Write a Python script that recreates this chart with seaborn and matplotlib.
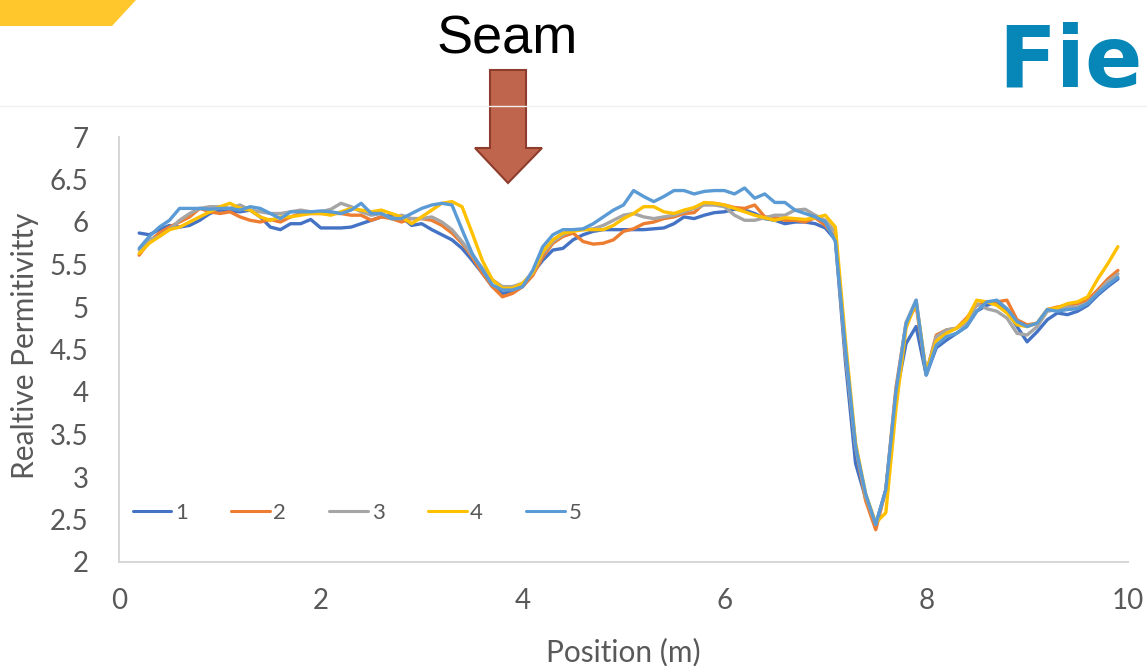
import numpy as np
import pandas as pd
import matplotlib
matplotlib.use("Agg")
import matplotlib.pyplot as plt
from matplotlib.patches import Polygon
from matplotlib.lines import Line2D
import seaborn as sns

# ---------------- data ----------------
positions = list(np.round(np.arange(0.2, 9.95, 0.1), 1))

series_1 = [5.87, 5.85, 5.91, 5.96, 5.94, 5.96, 6.02, 6.10, 6.14, 6.13,
            6.12, 6.14, 6.06, 5.94, 5.91, 5.98, 5.98, 6.03, 5.93, 5.93,
            5.93, 5.94, 5.98, 6.02, 6.06, 6.08, 6.06, 5.96, 5.98, 5.91,
            5.85, 5.79, 5.69, 5.55, 5.40, 5.24, 5.16, 5.18, 5.24, 5.40,
            5.55, 5.67, 5.69, 5.79, 5.85, 5.89, 5.91, 5.91, 5.91, 5.91,
            5.91, 5.92, 5.93, 5.98, 6.06, 6.04, 6.08, 6.11, 6.12, 6.15,
            6.14, 6.10, 6.04, 6.02, 5.98, 6.00, 6.00, 5.98, 5.93, 5.79,
            4.35, 3.16, 2.75, 2.44, 2.85, 3.95, 4.57, 4.77, 4.20, 4.52,
            4.61, 4.69, 4.77, 4.95, 5.02, 5.06, 4.96, 4.77, 4.59, 4.71,
            4.85, 4.93, 4.91, 4.95, 5.02, 5.14, 5.24, 5.33]

series_2 = [5.61, 5.77, 5.87, 5.94, 6.00, 6.06, 6.16, 6.12, 6.10, 6.12,
            6.06, 6.02, 6.00, 6.03, 6.00, 6.06, 6.10, 6.10, 6.10, 6.10,
            6.10, 6.08, 6.08, 6.02, 6.06, 6.04, 6.00, 6.04, 6.04, 6.02,
            5.96, 5.87, 5.75, 5.59, 5.40, 5.24, 5.12, 5.16, 5.24, 5.37,
            5.59, 5.75, 5.83, 5.87, 5.77, 5.74, 5.75, 5.79, 5.89, 5.92,
            5.98, 6.00, 6.04, 6.06, 6.10, 6.11, 6.22, 6.22, 6.20, 6.17,
            6.16, 6.20, 6.06, 6.05, 6.02, 6.02, 6.00, 6.05, 5.96, 5.82,
            4.45, 3.36, 2.72, 2.38, 2.85, 4.05, 4.80, 5.02, 4.22, 4.67,
            4.73, 4.75, 4.87, 5.02, 5.06, 5.06, 5.08, 4.85, 4.79, 4.81,
            4.97, 5.00, 5.02, 5.04, 5.08, 5.20, 5.33, 5.43]

series_3 = [5.67, 5.79, 5.83, 5.91, 6.02, 6.10, 6.16, 6.18, 6.18, 6.16,
            6.20, 6.14, 6.12, 6.10, 6.10, 6.12, 6.14, 6.12, 6.12, 6.15,
            6.22, 6.18, 6.12, 6.08, 6.10, 6.04, 6.08, 6.04, 6.04, 6.06,
            6.00, 5.91, 5.77, 5.61, 5.46, 5.32, 5.24, 5.24, 5.28, 5.40,
            5.63, 5.77, 5.85, 5.91, 5.91, 5.92, 5.96, 6.02, 6.08, 6.10,
            6.06, 6.04, 6.06, 6.08, 6.12, 6.16, 6.20, 6.20, 6.18, 6.08,
            6.02, 6.02, 6.05, 6.08, 6.08, 6.14, 6.15, 6.08, 6.02, 5.88,
            4.45, 3.36, 2.77, 2.44, 2.85, 4.00, 4.82, 5.08, 4.22, 4.65,
            4.73, 4.75, 4.81, 5.04, 4.98, 4.95, 4.87, 4.69, 4.67, 4.77,
            4.95, 4.97, 5.00, 5.00, 5.05, 5.17, 5.30, 5.39]

series_4 = [5.63, 5.75, 5.83, 5.91, 5.94, 6.00, 6.06, 6.12, 6.18, 6.22,
            6.16, 6.14, 6.06, 6.02, 6.06, 6.06, 6.08, 6.10, 6.10, 6.08,
            6.12, 6.16, 6.14, 6.12, 6.14, 6.10, 6.06, 5.98, 6.06, 6.14,
            6.22, 6.24, 6.18, 5.87, 5.55, 5.32, 5.22, 5.22, 5.28, 5.40,
            5.65, 5.79, 5.87, 5.89, 5.91, 5.91, 5.91, 5.96, 6.04, 6.10,
            6.18, 6.18, 6.12, 6.10, 6.14, 6.17, 6.23, 6.22, 6.20, 6.16,
            6.12, 6.08, 6.05, 6.02, 6.05, 6.04, 6.03, 6.05, 6.08, 5.94,
            4.60, 3.40, 2.80, 2.46, 2.58, 3.80, 4.75, 5.06, 4.24, 4.60,
            4.69, 4.75, 4.85, 5.08, 5.06, 5.02, 4.93, 4.79, 4.77, 4.81,
            4.97, 4.99, 5.04, 5.06, 5.12, 5.33, 5.51, 5.71]

series_5 = [5.69, 5.83, 5.94, 6.02, 6.16, 6.16, 6.16, 6.15, 6.16, 6.16,
            6.14, 6.18, 6.16, 6.10, 6.04, 6.12, 6.12, 6.12, 6.13, 6.12,
            6.10, 6.14, 6.22, 6.10, 6.10, 6.04, 6.04, 6.10, 6.16, 6.20,
            6.22, 6.20, 5.91, 5.63, 5.44, 5.26, 5.20, 5.20, 5.24, 5.43,
            5.71, 5.85, 5.91, 5.91, 5.92, 5.98, 6.06, 6.14, 6.20, 6.37,
            6.30, 6.24, 6.30, 6.37, 6.37, 6.33, 6.36, 6.37, 6.37, 6.33,
            6.40, 6.28, 6.33, 6.23, 6.23, 6.14, 6.10, 6.06, 6.00, 5.77,
            4.50, 3.36, 2.80, 2.44, 2.85, 4.00, 4.80, 5.08, 4.20, 4.55,
            4.65, 4.69, 4.77, 4.95, 5.06, 5.08, 4.98, 4.83, 4.77, 4.81,
            4.97, 4.95, 4.97, 4.98, 5.04, 5.16, 5.26, 5.35]

series_names = ["1", "2", "3", "4", "5"]
series_colors = ["#4472C4", "#ED7D31", "#A5A5A5", "#FFC000", "#5B9BD5"]
x_ticks = [0, 2, 4, 6, 8, 10]
y_ticks = [2, 2.5, 3, 3.5, 4, 4.5, 5, 5.5, 6, 6.5, 7]
y_tick_labels = ["2", "2.5", "3", "3.5", "4", "4.5", "5", "5.5", "6", "6.5", "7"]

all_series = [series_1, series_2, series_3, series_4, series_5]
df = pd.DataFrame({
    "Position": positions * 5,
    "Value": sum(all_series, []),
    "Series": sum([[n] * len(positions) for n in series_names], []),
})

# ---------------- style ----------------
sns.set_theme(style="white")
plt.rcParams["font.family"] = ["Lato", "DejaVu Sans"]

W, H = 1147, 666
fig = plt.figure(figsize=(W / 100, H / 100), dpi=100)
fig.patch.set_facecolor("white")

def fx(px):
    return px / W

def fy(py):
    return 1 - py / H

# slide decorations
fig.add_artist(Polygon([(fx(0), fy(0)), (fx(136), fy(0)), (fx(112), fy(26)), (fx(0), fy(26))],
                       closed=True, transform=fig.transFigure, facecolor="#FFC72C",
                       edgecolor="none"))
fig.add_artist(Line2D([0, 1], [fy(106), fy(106)], transform=fig.transFigure,
                      color="#F0F0F0", lw=1))
fig.text(fx(507), fy(54), "Seam", ha="center", va="baseline", fontsize=39,
         family=["Liberation Sans", "DejaVu Sans"], color="black")
arrow_pts = [(490, 70), (526, 70), (526, 148), (542, 148), (508, 183), (475, 148), (490, 148)]
fig.add_artist(Polygon([(fx(a), fy(b)) for a, b in arrow_pts], closed=True,
                       transform=fig.transFigure, facecolor="#C0654D",
                       edgecolor="#8E3C2C", lw=1.5))
fig.text(fx(998), fy(87), "Field", ha="left", va="baseline", fontsize=61,
         fontweight="bold", family=["DejaVu Sans"], color="#0787B8")

# chart
ax = fig.add_axes([fx(119), fy(562), (1128 - 119) / W, (562 - 137) / H])
ax.set_facecolor("white")
sns.lineplot(data=df, x="Position", y="Value", hue="Series", hue_order=series_names,
             palette=series_colors, linewidth=2.4, ax=ax, legend=True)

ax.set_xlim(0, 10)
ax.set_ylim(2, 7)
ax.set_xticks(x_ticks)
ax.set_xticklabels([str(t) for t in x_ticks])
ax.set_yticks(y_ticks)
ax.set_yticklabels(y_tick_labels)
ax.tick_params(axis="both", length=0, labelsize=20, labelcolor="#595959")
ax.tick_params(axis="y", pad=22)
ax.tick_params(axis="x", pad=19)
for s in ["top", "right"]:
    ax.spines[s].set_visible(False)
for s in ["left", "bottom"]:
    ax.spines[s].set_color("#D6D6D6")
    ax.spines[s].set_linewidth(1.4)

ax.set_xlabel("Position (m)", fontsize=21.5, color="#595959")
ax.set_ylabel("Realtive Permitivitty", fontsize=21.5, color="#595959")
ax.xaxis.set_label_coords(0.5, -0.212)
ax.xaxis.label.set_verticalalignment("center")
ax.yaxis.set_label_coords(-0.093, 0.508)
ax.yaxis.label.set_verticalalignment("center")

handles, labels = ax.get_legend_handles_labels()
leg = ax.legend(handles, labels, ncol=5, frameon=False, fontsize=16,
                loc="center left", bbox_to_anchor=(0.009, 0.115),
                borderaxespad=0, borderpad=0.2, handlelength=1.75,
                handletextpad=0.15, columnspacing=1.95)
for t in leg.get_texts():
    t.set_color("#595959")
for h in leg.get_lines():
    h.set_linewidth(2.2)

fig.savefig("out.png", dpi=100, facecolor="white")
